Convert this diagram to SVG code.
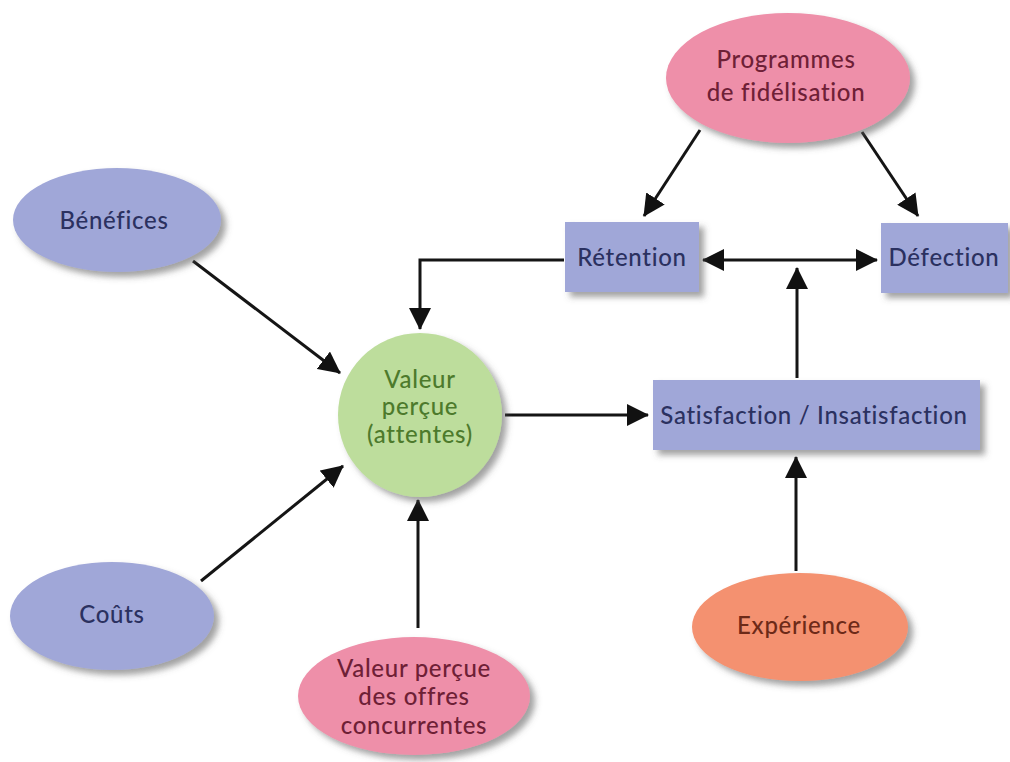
<svg xmlns="http://www.w3.org/2000/svg" width="1010" height="762" viewBox="0 0 1010 762">
<defs>
<filter id="sh" x="-20%" y="-20%" width="150%" height="150%">
<feDropShadow dx="5" dy="5" stdDeviation="3" flood-color="#555" flood-opacity="0.55"/>
</filter>
<marker id="ah" markerUnits="userSpaceOnUse" markerWidth="22" markerHeight="22" viewBox="0 0 22 22" refX="21" refY="11" orient="auto-start-reverse">
<path d="M0,0 L22,11 L0,22 z" fill="#111"/>
</marker>
<style>
text{font-family:Lato,"Open Sans","Liberation Sans",sans-serif;font-size:24px;font-weight:500;letter-spacing:0.7px;text-anchor:middle}
.blue{fill:#a0a7d8;filter:url(#sh)}
.pink{fill:#ee8fa9;filter:url(#sh)}
.green{fill:#bddd9c;filter:url(#sh)}
.orange{fill:#f4916f;filter:url(#sh)}
.tb{fill:#2b3160}
.tp{fill:#6e2036}
.tg{fill:#4d7a2c}
.to{fill:#6d2a18}
.c{stroke:#151515;stroke-width:3;fill:none;marker-end:url(#ah)}
</style>
</defs>
<rect width="1010" height="762" fill="#fff"/>
<g id="connectors">
<line class="c" x1="700" y1="130" x2="644" y2="216"/>
<line class="c" x1="862" y1="132" x2="918" y2="216"/>
<line class="c" x1="703" y1="260" x2="877" y2="260" style="marker-start:url(#ah)"/>
<line class="c" x1="797" y1="378" x2="797" y2="268"/>
<polyline class="c" points="564,260 420,260 420,329"/>
<line class="c" x1="193" y1="261" x2="340" y2="373"/>
<line class="c" x1="201" y1="581" x2="343" y2="466"/>
<line class="c" x1="505" y1="415" x2="648" y2="415"/>
<line class="c" x1="418" y1="628" x2="418" y2="500"/>
<line class="c" x1="796" y1="571" x2="796" y2="457"/>
</g>
<g id="programmes">
<ellipse class="pink" cx="788" cy="78" rx="122" ry="65"/>
<text class="tp" x="786" y="68">Programmes</text>
<text class="tp" x="786" y="101">de fidélisation</text>
</g>
<g id="retention">
<rect class="blue" x="565" y="222" width="134" height="70"/>
<text class="tb" x="632" y="266">Rétention</text>
</g>
<g id="defection">
<rect class="blue" x="881" y="223" width="127" height="70"/>
<text class="tb" x="944" y="266">Défection</text>
</g>
<g id="benefices">
<ellipse class="blue" cx="117" cy="220" rx="104" ry="52"/>
<text class="tb" x="114" y="229">Bénéfices</text>
</g>
<g id="valeur">
<circle class="green" cx="420" cy="415" r="82"/>
<text class="tg" x="420" y="388">Valeur</text>
<text class="tg" x="420" y="415">perçue</text>
<text class="tg" x="420" y="443">(attentes)</text>
</g>
<g id="satisfaction">
<rect class="blue" x="653" y="380" width="327" height="70"/>
<text class="tb" x="814" y="424">Satisfaction / Insatisfaction</text>
</g>
<g id="experience">
<ellipse class="orange" cx="800" cy="627" rx="108" ry="54"/>
<text class="to" x="799" y="634">Expérience</text>
</g>
<g id="couts">
<ellipse class="blue" cx="112" cy="616" rx="102" ry="54"/>
<text class="tb" x="112" y="623">Coûts</text>
</g>
<g id="offres">
<ellipse class="pink" cx="414" cy="696" rx="116" ry="59"/>
<text class="tp" x="414" y="677">Valeur perçue</text>
<text class="tp" x="414" y="705">des offres</text>
<text class="tp" x="414" y="734">concurrentes</text>
</g>
</svg>
